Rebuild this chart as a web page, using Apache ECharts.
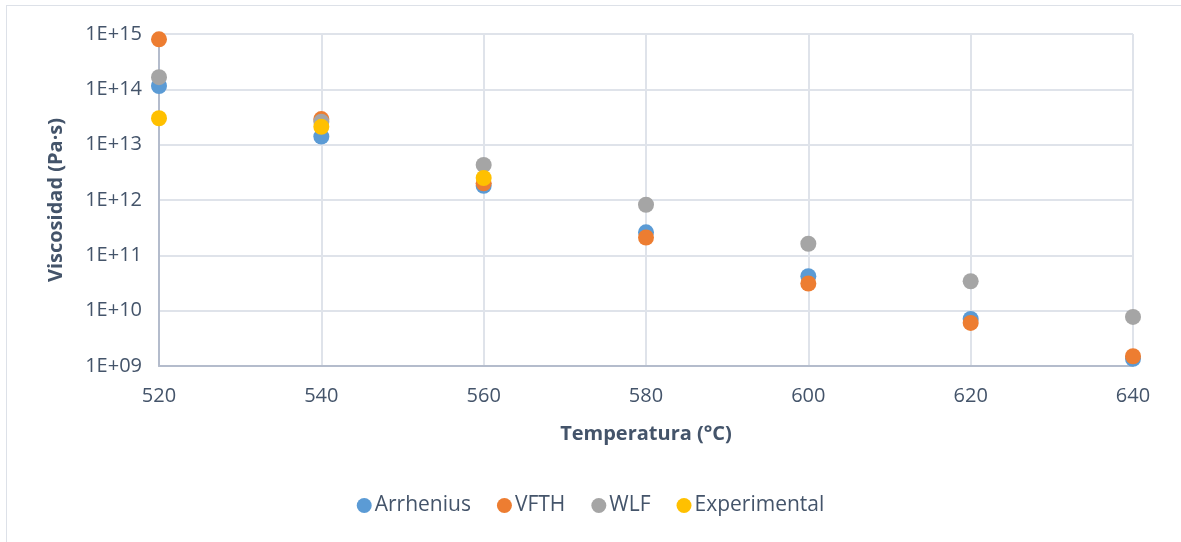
<!DOCTYPE html>
<html>
<head>
<meta charset="utf-8">
<script src="https://cdn.jsdelivr.net/npm/echarts@6/dist/echarts.min.js"></script>
<style>
  html, body { margin: 0; padding: 0; background: #fff; }
  #frame { position: absolute; left: 6px; top: 5px; width: 1200px; height: 560px; border-left: 1px solid #dde1e8; border-top: 1px solid #dde1e8; }
  #chart { position: absolute; left: 0; top: 0; width: 1181px; height: 542px; }
</style>
</head>
<body>
<div id="frame"></div>
<div id="chart"></div>
<script>
// Temperatures (°C)
const temperatures = [520, 540, 560, 580, 600, 620, 640];

// Viscosity (Pa·s) per model
const arrhenius    = [1.15e14, 1.4e13, 1.8e12, 2.6e11, 4.2e10, 7.1e9, 1.35e9];
const vfth         = [8.0e14, 2.9e13, 2.0e12, 2.1e11, 3.1e10, 6.0e9, 1.5e9];
const wlf          = [1.66e14, 2.6e13, 4.3e12, 8.2e11, 1.62e11, 3.4e10, 7.7e9];
const experimental = [3.0e13, 2.1e13, 2.5e12];

const seriesNames  = ['Arrhenius', 'VFTH', 'WLF', 'Experimental'];
const seriesColors = ['#5b9bd5', '#ed7d31', '#a5a5a5', '#ffc000'];
const seriesValues = [arrhenius, vfth, wlf, experimental];

const textColor = '#44546a';
const fontFamily = '"Open Sans", Lato, sans-serif';

// Scientific tick labels with a two-digit exponent, e.g. 1E+09
function sciLabel(v) {
  const e = Math.round(Math.log10(v));
  return '1E+' + (e < 10 ? '0' + e : String(e));
}

const chart = echarts.init(document.getElementById('chart'));

chart.setOption({
  animation: false,
  textStyle: { fontFamily: fontFamily, color: textColor },
  grid: { left: 159, right: 48, top: 34, bottom: 176 },
  legend: {
    bottom: 21,
    left: 'center',
    icon: 'circle',
    itemWidth: 15,
    itemHeight: 15,
    itemGap: 26,
    textStyle: { fontSize: 21, color: textColor, fontFamily: fontFamily, padding: [0, 0, 0, -2] },
    data: seriesNames
  },
  xAxis: {
    type: 'value',
    min: 520,
    max: 640,
    interval: 20,
    name: 'Temperatura (°C)',
    nameLocation: 'middle',
    nameGap: 58,
    nameTextStyle: { fontSize: 20, fontWeight: 'bold', color: textColor, fontFamily: fontFamily },
    axisLine: { show: true, lineStyle: { color: '#b4bccc', width: 2 } },
    axisTick: { show: false },
    axisLabel: { fontSize: 20, color: textColor, margin: 20, fontFamily: fontFamily },
    splitLine: { show: true, lineStyle: { color: '#dfe3ea', width: 2 } }
  },
  yAxis: {
    type: 'log',
    logBase: 10,
    min: 1e9,
    max: 1e15,
    splitNumber: 6,
    name: 'Viscosidad (Pa·s)',
    nameLocation: 'middle',
    nameGap: 93,
    nameRotate: 90,
    nameTextStyle: { fontSize: 20, fontWeight: 'bold', color: textColor, fontFamily: fontFamily },
    axisLine: { show: true, lineStyle: { color: '#b4bccc', width: 2 } },
    axisTick: { show: false },
    axisLabel: {
      fontSize: 20,
      color: textColor,
      margin: 17,
      fontFamily: fontFamily,
      formatter: sciLabel
    },
    splitLine: { show: true, lineStyle: { color: '#dfe3ea', width: 2 } }
  },
  series: seriesNames.map(function (name, i) {
    return {
      name: name,
      type: 'scatter',
      symbol: 'circle',
      symbolSize: 16,
      itemStyle: { color: seriesColors[i], opacity: 1 },
      data: seriesValues[i].map(function (v, j) { return [temperatures[j], v]; }),
      z: 2 + i
    };
  })
});
</script>
</body>
</html>
